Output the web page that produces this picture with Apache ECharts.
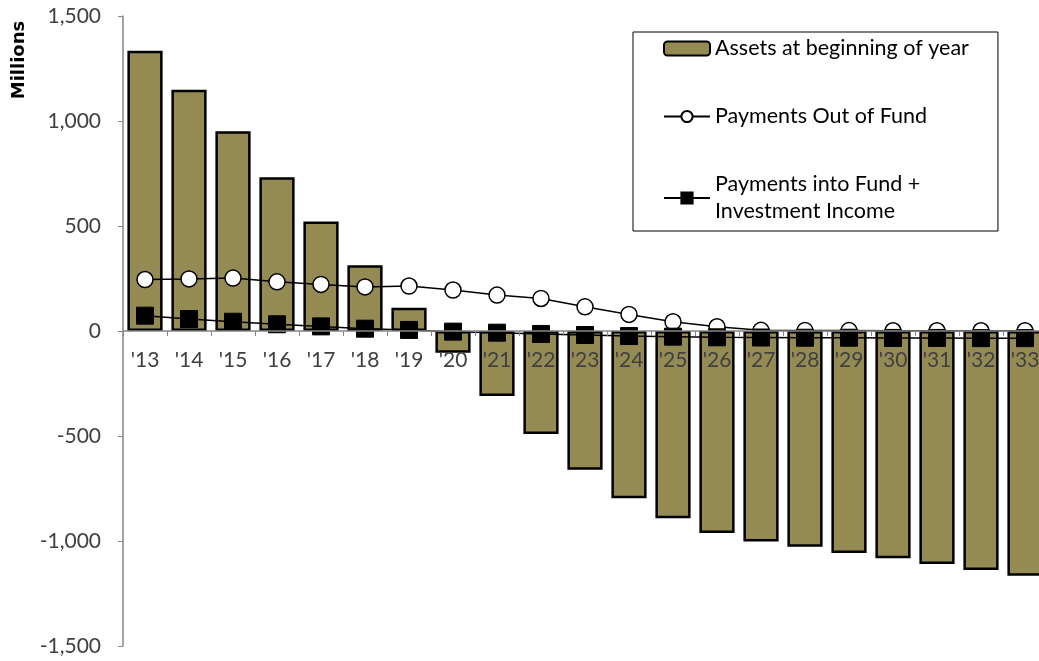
<!DOCTYPE html>
<html>
<head>
<meta charset="utf-8">
<script src="https://cdn.jsdelivr.net/npm/echarts@6/dist/echarts.min.js"></script>
<style>html,body{margin:0;padding:0;background:#fff}#c{width:1039px;height:661px}</style>
</head>
<body>
<div id="c"></div>
<script>
const categories = ["'13","'14","'15","'16","'17","'18","'19","'20","'21","'22","'23","'24","'25","'26","'27","'28","'29","'30","'31","'32","'33"];
const assets = [1335, 1149, 951, 732, 521, 313, 111, -103, -309, -490, -661, -796, -892, -962, -1002, -1027, -1057, -1082, -1109, -1138, -1166];
const paymentsOut = [245, 248, 252, 234, 222, 210, 214, 195, 171, 155, 115, 79, 44, 20, 3, 2, 2, 1, 1, 1, 1];
const paymentsIn = [73, 57, 44, 32, 22, 11, 5, -3, -8, -14, -19, -24, -27, -30, -31, -32, -32, -33, -33, -34, -34];
const yTicks = {min: -1500, max: 1500, interval: 500};

const FONT = 'Lato';
const GRID_TOP = 16, GRID_BOTTOM = 15, H = 661;
const plotH = H - GRID_TOP - GRID_BOTTOM;
// x axis drawn at the zero line: move it up from the grid bottom by the pixel distance of 0 from min
const zeroOffset = -plotH * (0 - yTicks.min) / (yTicks.max - yTicks.min);

const chart = echarts.init(document.getElementById('c'), null, {renderer: 'canvas'});
chart.setOption({
  animation: false,
  backgroundColor: '#fff',
  textStyle: {fontFamily: FONT},
  grid: {left: 123, right: -8, top: GRID_TOP, bottom: GRID_BOTTOM, containLabel: false, outerBoundsMode: 'none'},
  legend: {
    orient: 'vertical',
    left: 633, top: 32,
    padding: [3, 29, 6, 30],
    borderColor: '#000', borderWidth: 1,
    itemGap: 41,
    itemWidth: 46, itemHeight: 14,
    textStyle: {fontFamily: FONT, fontSize: 21.5, color: '#000', lineHeight: 27},
    data: ['Assets at beginning of year', 'Payments Out of Fund', 'Payments into Fund +\nInvestment Income']
  },
  graphic: [{
    type: 'text', x: 19, y: 60, rotation: Math.PI / 2,
    style: {text: 'Millions', font: 'bold 18px "DejaVu Sans"', fill: '#000', textAlign: 'center', textVerticalAlign: 'middle'}
  }],
  xAxis: {
    type: 'category', data: categories, boundaryGap: true, z: 10,
    position: 'bottom', offset: zeroOffset,
    axisLine: {onZero: false, lineStyle: {color: '#868686', width: 1.5}},
    axisTick: {show: true, length: 5, lineStyle: {color: '#868686'}},
    axisLabel: {margin: 19, fontSize: 21, color: '#404040', fontFamily: FONT, interval: 0}
  },
  yAxis: {
    type: 'value', min: yTicks.min, max: yTicks.max, interval: yTicks.interval,
    splitLine: {show: false},
    axisLine: {show: true, onZero: false, lineStyle: {color: '#868686', width: 1.5}},
    axisTick: {show: true, length: 5, lineStyle: {color: '#868686'}},
    axisLabel: {margin: 22, fontSize: 21, color: '#404040', fontFamily: FONT,
      formatter: v => v.toLocaleString('en-US')}
  },
  series: [
    {
      name: 'Assets at beginning of year', type: 'bar', data: assets,
      barCategoryGap: '20%',
      itemStyle: {color: '#948A54', borderColor: '#000', borderWidth: 2.5}
    },
    {
      name: 'Payments Out of Fund', type: 'line', data: paymentsOut,
      symbol: 'circle', symbolSize: 16,
      lineStyle: {color: '#000', width: 1.5},
      itemStyle: {color: '#fff', borderColor: '#000', borderWidth: 1.5}
    },
    {
      name: 'Payments into Fund +\nInvestment Income', type: 'line', data: paymentsIn,
      symbol: 'rect', symbolSize: 17,
      lineStyle: {color: '#000', width: 1.5},
      itemStyle: {color: '#000', borderColor: '#000', borderWidth: 1}
    }
  ]
});
</script>
</body>
</html>
